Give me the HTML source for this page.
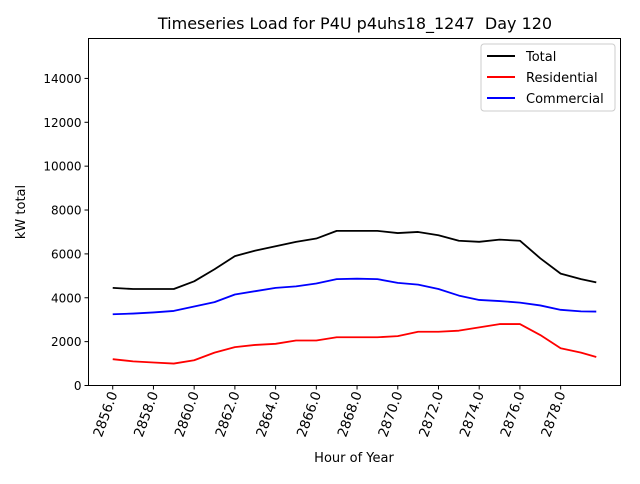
<!DOCTYPE html>
<html><head><meta charset="utf-8"><style>
body{margin:0;background:#fff;font-family:"DejaVu Sans","Liberation Sans",sans-serif}
svg text{font-family:"DejaVu Sans","Liberation Sans",sans-serif}
</style></head><body>
<svg id="chart" width="640" height="480" xmlns="http://www.w3.org/2000/svg">
<rect width="640" height="480" fill="#fff"/>
<text x="355" y="29" font-size="16" text-anchor="middle">Timeseries Load for P4U p4uhs18_1247&#160; Day 120</text>
<text x="354" y="462" font-size="13" text-anchor="middle">Hour of Year</text>
<text transform="translate(25,212) rotate(-90)" font-size="13" text-anchor="middle">kW total</text>
<g id="ticks"></g>
<g id="series"></g>
<rect x="88.5" y="38.5" width="532" height="347" fill="none" stroke="#000" stroke-width="1"/>
<g>
<rect x="481" y="44" width="134" height="67" rx="3" fill="#fff" stroke="#ccc"/>
<line x1="487" y1="56" x2="515" y2="56" stroke="#000" stroke-width="2"/>
<text x="526" y="61" font-size="13">Total</text>
<line x1="487" y1="77" x2="515" y2="77" stroke="#f00" stroke-width="2"/>
<text x="526" y="82" font-size="13">Residential</text>
<line x1="487" y1="98" x2="515" y2="98" stroke="#00f" stroke-width="2"/>
<text x="526" y="103" font-size="13">Commercial</text>
</g>
</svg>
<script>
const hours=[2856,2857,2858,2859,2860,2861,2862,2863,2864,2865,2866,2867,2868,2869,2870,2871,2872,2873,2874,2875,2876,2877,2878,2879,2879.75];
const total=[4450,4400,4400,4400,4750,5300,5900,6150,6350,6550,6700,7050,7050,7050,6950,7000,6850,6600,6550,6650,6600,5800,5100,4850,4700];
const residential=[1200,1100,1050,1000,1150,1500,1750,1850,1900,2050,2050,2200,2200,2200,2250,2450,2450,2500,2650,2800,2800,2300,1700,1500,1300];
const commercial=[3250,3280,3330,3400,3600,3800,4150,4300,4450,4520,4650,4850,4870,4850,4680,4600,4400,4100,3900,3850,3780,3650,3450,3380,3370];
const xTicks=[2856,2858,2860,2862,2864,2866,2868,2870,2872,2874,2876,2878];
const yTicks=[0,2000,4000,6000,8000,10000,12000,14000];
const X0=88.5,X1=620.5,Y0=385.5,Y1=38.5,xmin=2854.81,xmax=2880.94,ymin=0,ymax=15820;
const xs=v=>X0+(v-xmin)/(xmax-xmin)*(X1-X0);
const ys=v=>Y0-(v-ymin)/(ymax-ymin)*(Y0-Y1);
const NS="http://www.w3.org/2000/svg";
const tg=document.getElementById('ticks'),sg=document.getElementById('series');
function mk(tag,attrs,p){const e=document.createElementNS(NS,tag);for(const k in attrs)e.setAttribute(k,attrs[k]);p.appendChild(e);return e;}
xTicks.forEach(t=>{const x=xs(t);
 const l=mk('line',{x1:x,x2:x,y1:Y0,y2:Y0+4,stroke:'#000'},tg);
 
 
 const tx=mk('text',{'font-size':13.5,'text-anchor':'end',transform:`translate(${x+5},${Y0+8}) rotate(-70)`},tg);
 tx.textContent=t.toFixed(1);
 
 
});
yTicks.forEach(t=>{const y=ys(t);
 const l=mk('line',{x1:X0-4,x2:X0,y1:y,y2:y,stroke:'#000'},tg);
 
 
 const tx=mk('text',{x:X0-7,y:y+4.5,'font-size':12,'text-anchor':'end'},tg);
 tx.textContent=t;
 
 
});
[[total,'#000','total-line'],[residential,'#f00','residential-line'],[commercial,'#00f','commercial-line']].forEach(([d,c,n])=>{
 const p=mk('polyline',{points:d.map((v,i)=>xs(hours[i])+','+ys(v)).join(' '),fill:'none',stroke:c,'stroke-width':1.8,'stroke-linejoin':'round'},sg);
 
 
});
</script>
</body></html>
